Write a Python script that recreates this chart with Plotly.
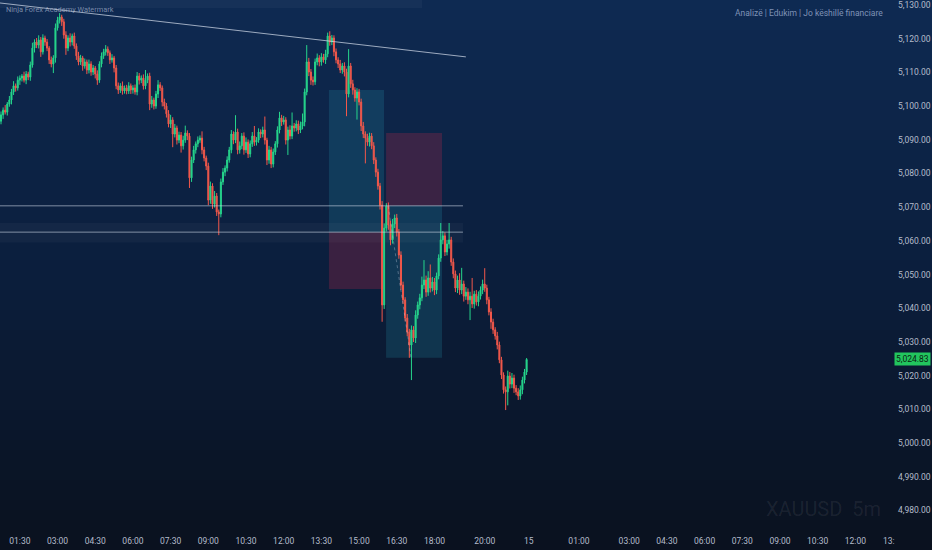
import plotly.graph_objects as go

# ---------------- data ----------------
first_open = 5095.5

close = [
    5097.4, 5098.8, 5098.2, 5100.6, 5101.8, 5104.2, 5106.0, 5105.4, 5107.7, 5108.3,
    5108.9, 5107.7, 5109.5, 5108.6, 5112.2, 5117.2, 5119.0, 5118.1, 5119.6, 5116.1,
    5120.2, 5119.0, 5117.2, 5113.7, 5112.5, 5114.3, 5123.2, 5125.5, 5126.4, 5125.0,
    5121.1, 5117.2, 5120.2, 5119.0, 5120.8, 5117.8, 5114.9, 5113.1, 5114.3, 5111.9,
    5113.1, 5110.7, 5112.5, 5110.1, 5111.3, 5109.5, 5107.7, 5112.5, 5114.9, 5116.1,
    5116.9, 5115.8, 5113.7, 5114.3, 5111.3, 5106.0, 5104.8, 5106.0, 5104.5, 5105.4,
    5104.5, 5106.0, 5104.8, 5105.4, 5104.2, 5108.9, 5107.7, 5108.3, 5106.0, 5107.7,
    5108.9, 5100.6, 5101.8, 5100.0, 5103.6, 5106.3, 5105.4, 5101.2, 5100.0, 5097.7,
    5094.7, 5095.9, 5091.7, 5093.5, 5089.9, 5091.4, 5088.2, 5089.9, 5092.0, 5091.1,
    5078.7, 5084.0, 5087.0, 5088.8, 5089.9, 5090.5, 5087.0, 5084.6, 5082.2, 5072.1,
    5076.3, 5070.9, 5073.3, 5068.6, 5068.0, 5077.5, 5080.4, 5081.6, 5084.0, 5087.0,
    5091.7, 5089.9, 5092.3, 5087.0, 5088.2, 5091.1, 5087.0, 5089.3, 5085.8, 5088.8,
    5091.1, 5089.3, 5089.9, 5092.3, 5091.7, 5092.9, 5089.9, 5084.0, 5087.0, 5082.8,
    5086.4, 5088.8, 5092.9, 5096.5, 5095.3, 5095.9, 5089.9, 5092.9, 5091.1, 5094.1,
    5093.5, 5094.7, 5092.9, 5094.1, 5095.3, 5104.2, 5113.1, 5110.1, 5107.7, 5107.2,
    5113.1, 5114.3, 5113.1, 5114.6, 5113.7, 5115.5, 5120.8, 5119.0, 5120.2, 5116.1,
    5113.7, 5112.5, 5110.7, 5111.9, 5110.1, 5103.6, 5111.9, 5106.6, 5104.8, 5102.4,
    5104.2, 5101.2, 5094.1, 5091.7, 5090.5, 5089.3, 5091.1, 5088.2, 5084.0, 5080.4,
    5076.3, 5070.6, 5041.0, 5063.8, 5070.3, 5064.7, 5060.3, 5065.0, 5066.8, 5062.6,
    5055.8, 5046.9, 5042.5, 5037.1, 5033.0, 5029.1, 5033.6, 5031.2, 5038.0, 5041.0,
    5043.1, 5046.9, 5048.4, 5044.8, 5049.0, 5046.0, 5047.8, 5045.4, 5049.6, 5054.9,
    5060.3, 5061.5, 5056.7, 5059.1, 5060.3, 5053.7, 5050.2, 5046.0, 5048.4, 5045.4,
    5047.2, 5043.6, 5044.8, 5042.5, 5043.6, 5041.3, 5044.2, 5041.9, 5043.6, 5045.4,
    5047.2, 5046.0, 5042.5, 5038.9, 5035.9, 5033.6, 5031.8, 5029.1, 5024.7, 5020.2,
    5015.8, 5015.2, 5019.9, 5017.5, 5019.3, 5016.3, 5015.2, 5014.0, 5015.8, 5018.7,
    5021.1, 5024.83,
]

upper_wick = [
    1.0, 0.8, 1.5, 0.6, 1.2, 0.9, 1.4, 0.7, 1.1, 0.8,
    0.6, 1.3, 0.9, 0.7, 1.0, 1.6, 0.8, 1.2, 1.4, 0.9,
    1.1, 0.7, 0.9, 0.6, 1.0, 0.8, 1.3, 1.0, 1.2, 0.7,
    0.9, 1.1, 0.8, 1.4, 0.7, 1.0, 0.8, 1.2, 0.9, 0.6,
    1.0, 0.7, 1.3, 0.8, 0.9, 0.6, 1.1, 0.8, 1.0, 0.9,
    1.2, 0.8, 0.7, 1.1, 0.6, 0.9, 1.0, 0.8, 1.3, 0.7,
    0.9, 1.1, 0.7, 0.8, 1.0, 1.2, 0.9, 0.8, 1.1, 3.0,
    0.8, 1.0, 1.2, 0.7, 0.9, 1.4, 0.8, 0.7, 1.0, 0.9,
    1.1, 1.5, 0.8, 1.2, 0.7, 1.0, 0.9, 1.3, 2.2, 0.8,
    0.9, 1.0, 1.2, 0.7, 1.1, 0.8, 2.0, 0.9, 0.7, 1.0,
    1.3, 0.8, 1.5, 0.9, 0.7, 1.0, 1.2, 0.8, 1.1, 0.9,
    1.2, 0.8, 5.0, 1.0, 1.3, 0.9, 1.1, 1.4, 0.8, 1.0,
    1.2, 3.0, 0.9, 1.1, 0.8, 1.0, 4.0, 0.7, 1.2, 0.9,
    1.0, 0.8, 1.1, 1.8, 0.9, 1.2, 0.8, 1.0, 1.4, 4.0,
    0.9, 1.1, 1.0, 1.3, 2.5, 1.0, 5.0, 1.2, 0.9, 1.1,
    1.0, 1.3, 0.8, 1.1, 0.9, 1.2, 1.0, 1.4, 0.9, 0.8,
    1.0, 0.8, 1.2, 0.9, 1.1, 1.0, 5.0, 0.9, 1.2, 0.8,
    1.1, 0.9, 1.0, 1.2, 0.8, 1.3, 1.0, 0.9, 1.1, 0.8,
    1.0, 0.9, 1.2, 1.4, 0.9, 1.1, 1.3, 1.5, 1.0, 1.2,
    0.9, 1.1, 1.0, 0.8, 1.2, 0.9, 1.3, 1.1, 1.4, 1.0,
    1.2, 2.5, 5.9, 1.3, 2.0, 4.0, 1.5, 1.2, 1.0, 1.1,
    5.0, 1.4, 1.0, 1.2, 5.0, 0.9, 1.1, 1.0, 1.3, 2.0,
    4.8, 1.0, 1.5, 1.1, 1.3, 5.4, 1.0, 1.2, 1.4, 1.1,
    1.3, 4.7, 1.0, 0.9, 1.1, 1.0, 0.8, 1.2, 1.0, 0.9,
    0.8, 1.0, 1.6, 1.2, 1.5, 1.0, 0.9, 1.1, 1.3, 1.0,
    0.9, 0.4,
]

lower_wick = [
    0.9, 1.2, 0.7, 1.0, 0.8, 1.3, 0.9, 1.1, 0.8, 1.4,
    1.0, 0.7, 1.2, 0.9, 1.1, 0.8, 1.3, 0.9, 1.0, 1.5,
    0.8, 1.1, 0.9, 1.2, 1.0, 2.7, 1.4, 0.8, 1.0, 1.2,
    1.1, 2.0, 0.9, 1.3, 1.0, 0.8, 1.2, 1.0, 0.9, 1.4,
    0.8, 1.2, 1.0, 1.1, 0.9, 1.3, 1.4, 0.8, 1.0, 0.9,
    1.1, 0.9, 1.2, 0.8, 1.3, 1.0, 1.2, 0.9, 1.1, 0.8,
    1.0, 0.9, 1.2, 1.1, 0.8, 1.0, 1.3, 0.9, 1.1, 1.0,
    0.9, 1.8, 1.1, 1.0, 0.8, 1.2, 0.9, 1.3, 1.0, 1.1,
    1.0, 1.2, 3.9, 1.0, 1.3, 0.9, 2.0, 1.1, 0.8, 1.2,
    3.0, 1.2, 0.9, 1.1, 1.0, 0.8, 1.3, 1.0, 1.2, 1.5,
    1.1, 1.4, 1.0, 1.2, 6.3, 1.0, 0.9, 1.2, 1.0, 0.8,
    1.0, 1.2, 0.9, 1.3, 1.1, 1.0, 1.4, 0.9, 1.2, 1.0,
    0.9, 1.1, 1.0, 0.8, 1.2, 1.0, 1.3, 1.5, 1.1, 1.2,
    1.0, 0.9, 1.1, 1.0, 1.2, 0.8, 1.3, 4.4, 1.0, 0.9,
    1.1, 1.0, 1.2, 0.9, 1.0, 1.3, 1.0, 1.2, 1.4, 1.1,
    0.9, 1.0, 1.3, 1.1, 0.8, 1.2, 1.0, 1.1, 0.9, 1.3,
    1.0, 1.2, 0.9, 1.1, 1.3, 6.6, 1.0, 1.2, 1.4, 1.1,
    6.4, 1.0, 1.5, 1.2, 7.5, 1.1, 1.3, 1.0, 1.2, 1.4,
    1.1, 1.3, 5.0, 1.2, 1.0, 1.4, 1.6, 1.1, 1.2, 1.3,
    1.1, 1.4, 1.2, 1.0, 1.3, 3.8, 10.4, 1.2, 1.5, 1.1,
    1.3, 1.0, 1.2, 1.4, 1.1, 1.3, 1.0, 1.5, 1.2, 1.0,
    1.1, 1.3, 1.2, 1.0, 1.4, 1.1, 1.3, 1.2, 1.5, 1.4,
    1.2, 1.6, 1.1, 1.3, 6.0, 1.2, 1.4, 1.1, 1.3, 1.0,
    1.2, 1.1, 1.3, 1.0, 2.0, 1.2, 1.1, 1.3, 1.0, 1.2,
    1.1, 5.4, 4.0, 1.3, 1.2, 1.4, 1.0, 1.2, 1.1, 1.3,
    1.0, 0.9,
]

time_tick_bars = [9, 27, 45, 63, 81, 99, 117, 135, 153, 171, 189, 207,
                  231, 252, 276, 300, 318, 336, 354, 372, 390, 408, 424]
time_tick_labels = ["01:30", "03:00", "04:30", "06:00", "07:30", "09:00",
                    "10:30", "12:00", "13:30", "15:00", "16:30", "18:00",
                    "20:00", "15", "01:00", "03:00", "04:30", "06:00",
                    "07:30", "09:00", "10:30", "12:00", "13:"]
price_ticks = [4980, 4990, 5000, 5010, 5020, 5030, 5040, 5050, 5060,
               5070, 5080, 5090, 5100, 5110, 5120, 5130]

# drawings (price levels / bar positions of the chart tools)
trend_line = dict(b0=-0.5, p0=5130.6, b1=222.0, p1=5114.6)
level_upper = 5070.4
level_lower = 5062.6
zone_band = (5059.5, 5065.3)
levels_end_bar = 220.6
long_pos = dict(b0=156.6, b1=182.9, entry=5062.6, target=5104.8, stop=5045.7)
short_pos = dict(b0=183.9, b1=210.6, entry=5070.4, target=5025.3, stop=5092.0)

# ---------------- derived OHLC ----------------
n = len(close)
bars = list(range(n))
opens = [first_open] + close[:-1]
highs = [max(o, c) + u for o, c, u in zip(opens, close, upper_wick)]
lows = [min(o, c) - d for o, c, d in zip(opens, close, lower_wick)]

W, H = 932, 550
ML, MR, MT, MB = 0, 39, 0, 22
PW, PH = W - ML - MR, H - MT - MB
PX_PER_UNIT = 3.37

GREEN = "#26d68c"
RED = "#f2584b"

fig = go.Figure()
fig.add_trace(go.Candlestick(
    x=bars, open=opens, high=highs, low=lows, close=close,
    increasing=dict(line=dict(color=GREEN, width=1), fillcolor=GREEN),
    decreasing=dict(line=dict(color=RED, width=1), fillcolor=RED),
    whiskerwidth=0, showlegend=False, hoverinfo="skip",
))

shapes = []
# background gradient (figure-wide)
stops = [(0, (14, 42, 82)), (275, (11, 30, 60)), (550, (10, 17, 30))]
nstrip = 55
for k in range(nstrip):
    py0 = k * H / nstrip
    py1 = (k + 1) * H / nstrip
    pm = (py0 + py1) / 2
    for (a, ca), (b, cb) in zip(stops[:-1], stops[1:]):
        if a <= pm <= b:
            t = (pm - a) / (b - a)
            col = tuple(int(round(ca[j] + t * (cb[j] - ca[j]))) for j in range(3))
            break
    shapes.append(dict(type="rect", xref="paper", yref="paper",
                       x0=-0.01, x1=(W + 5) / PW,
                       y0=1 - (py1 + 0.6 - MT) / PH, y1=1 - (py0 - MT) / PH,
                       fillcolor="rgb(%d,%d,%d)" % col, line=dict(width=0),
                       layer="below"))
# top lighter strip
shapes.append(dict(type="rect", xref="paper", yref="paper", x0=0, x1=422 / PW,
                   y0=1 - 8 / PH, y1=1, fillcolor="rgba(255,255,255,0.035)",
                   line=dict(width=0), layer="below"))

TEAL = "rgba(40,160,185,0.20)"
MAROON = "rgba(185,40,75,0.27)"
# long position
shapes.append(dict(type="rect", xref="x", yref="y", x0=long_pos["b0"], x1=long_pos["b1"],
                   y0=long_pos["entry"], y1=long_pos["target"], fillcolor=TEAL,
                   line=dict(width=0), layer="below"))
shapes.append(dict(type="rect", xref="x", yref="y", x0=long_pos["b0"], x1=long_pos["b1"],
                   y0=long_pos["stop"], y1=long_pos["entry"], fillcolor=MAROON,
                   line=dict(width=0), layer="below"))
# short position
shapes.append(dict(type="rect", xref="x", yref="y", x0=short_pos["b0"], x1=short_pos["b1"],
                   y0=short_pos["entry"], y1=short_pos["stop"], fillcolor=MAROON,
                   line=dict(width=0), layer="below"))
shapes.append(dict(type="rect", xref="x", yref="y", x0=short_pos["b0"], x1=short_pos["b1"],
                   y0=short_pos["target"], y1=short_pos["entry"], fillcolor=TEAL,
                   line=dict(width=0), layer="below"))
shapes.append(dict(type="line", xref="x", yref="y", x0=short_pos["b0"] + 1, y0=short_pos["entry"],
                   x1=195.8, y1=short_pos["target"],
                   line=dict(color="rgba(200,210,225,0.35)", width=1, dash="dot")))
# zone band and levels
shapes.append(dict(type="rect", xref="x", yref="y", x0=-0.5, x1=levels_end_bar,
                   y0=zone_band[0], y1=zone_band[1], fillcolor="rgba(255,255,255,0.035)",
                   line=dict(width=0), layer="below"))
for lv in (level_upper, level_lower):
    shapes.append(dict(type="line", xref="x", yref="y", x0=-0.5, x1=levels_end_bar,
                       y0=lv, y1=lv, line=dict(color="rgba(205,215,230,0.6)", width=1)))
shapes.append(dict(type="line", xref="x", yref="y", x0=trend_line["b0"], y0=trend_line["p0"],
                   x1=trend_line["b1"], y1=trend_line["p1"],
                   line=dict(color="rgba(205,215,230,0.75)", width=1)))

FONT = "Roboto, 'Noto Sans', sans-serif"
annotations = [
    dict(xref="paper", yref="paper", x=4 / PW, y=1 - 10 / PH, xanchor="left", yanchor="middle",
         text="Ninja Forex Academy Watermark", showarrow=False,
         font=dict(family=FONT, size=7.4, color="rgba(195,205,225,0.6)")),
    dict(xref="paper", yref="paper", x=885 / PW, y=1 - 13 / PH, xanchor="right", yanchor="middle",
         text="Analizë | Edukim | Jo këshillë financiare", showarrow=False,
         font=dict(family=FONT, size=8.5, color="#7f92b6")),
    dict(xref="paper", yref="paper", x=823 / PW, y=1 - 509 / PH, xanchor="center", yanchor="middle",
         text="XAUUSD&nbsp;&nbsp;5m", showarrow=False,
         font=dict(family=FONT, size=20, color="rgba(255,255,255,0.08)")),
    dict(xref="paper", yref="y", x=1, xshift=1, y=close[-1], xanchor="left", yanchor="middle",
         text="{:,.2f}".format(close[-1]), showarrow=False, bgcolor="#22c55e",
         borderpad=1, font=dict(family=FONT, size=8.5, color="#0b1f12")),
]

y_top = 5131.48
y_bot = y_top - PH / PX_PER_UNIT

fig.update_layout(
    width=W, height=H,
    margin=dict(l=ML, r=MR, t=MT, b=MB, pad=0),
    paper_bgcolor="rgb(10,17,30)", plot_bgcolor="rgba(0,0,0,0)",
    shapes=shapes, annotations=annotations, showlegend=False,
    font=dict(family=FONT, size=9, color="#b4bccb"),
    xaxis=dict(range=[-0.48, (PW - 1) / 2.094], rangeslider=dict(visible=False),
               tickmode="array", tickvals=time_tick_bars, ticktext=time_tick_labels,
               showgrid=False, zeroline=False, showline=False, ticks="",
               ticklabelstandoff=6, automargin=False,
               tickfont=dict(size=8.5, color="#b4bccb"), fixedrange=True),
    yaxis=dict(range=[y_bot, y_top], side="right", tickmode="array", tickvals=price_ticks,
               tickformat=",.2f", showgrid=False, zeroline=False, showline=False, ticks="",
               ticklabelstandoff=4, automargin=False, ticklabeloverflow="allow",
               tickfont=dict(size=8.5, color="#b4bccb"), fixedrange=True),
)

fig.write_html(
    "out.html",
    config={"displayModeBar": False, "staticPlot": True},
    post_script="document.body.style.margin='0';document.body.style.padding='0';"
                "document.body.style.overflow='hidden';",
)
